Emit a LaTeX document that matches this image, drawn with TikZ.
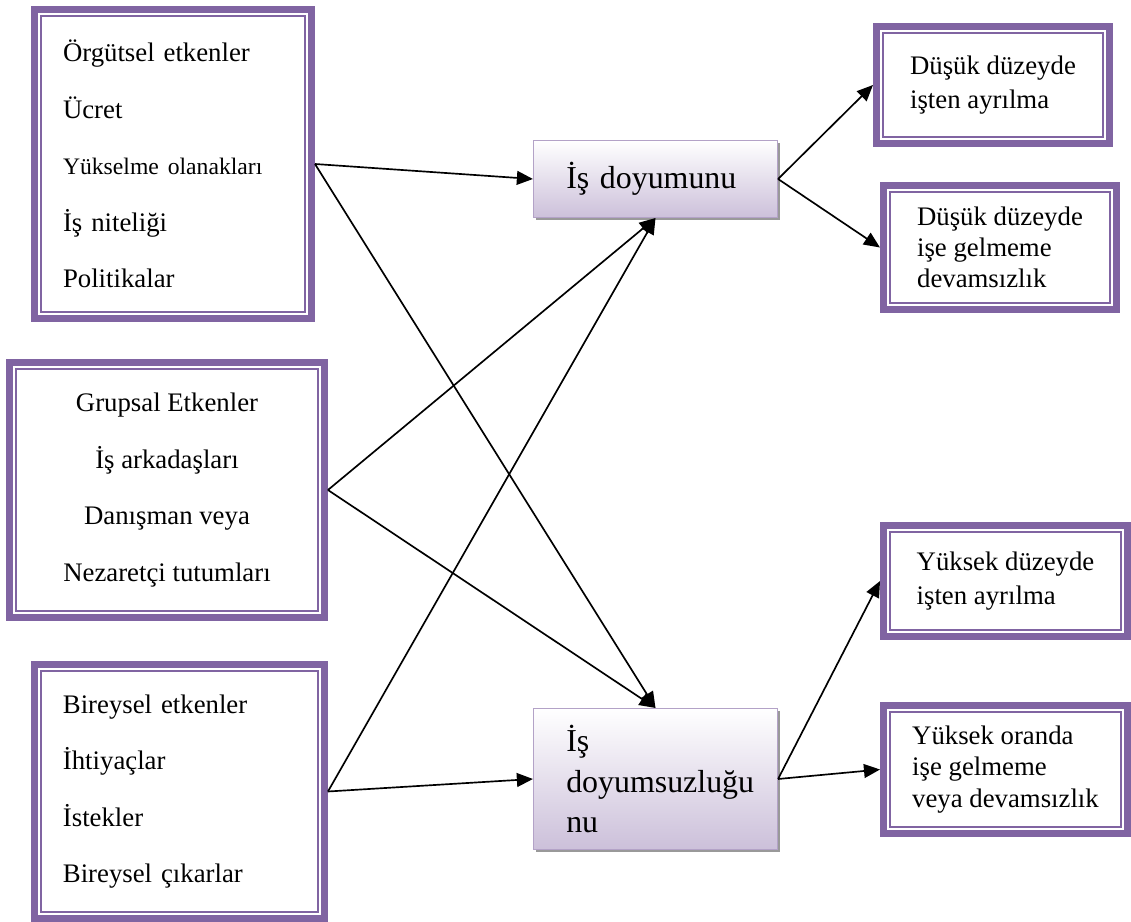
\documentclass[tikz,border=0pt]{standalone}
\usepackage{fontspec}
\setmainfont{Liberation Serif}
\usetikzlibrary{arrows.meta,shadows}

\definecolor{framecol}{HTML}{8064A2}
\definecolor{cenline}{HTML}{B3A2C7}
\definecolor{cenbot}{HTML}{CCC0DA}

\tikzset{
	frame/.style={draw=framecol, line width=3.1pt, fill=white,
		path picture={\draw[framecol, line width=0.9pt]
			([shift={(2.9pt,-2.9pt)}]path picture bounding box.north west) rectangle
			([shift={(-2.9pt,2.9pt)}]path picture bounding box.south east);}},
	leftbox/.style={frame, font=\fontsize{12}{25.3}\selectfont},
	rightbox/.style={frame, align=left, font=\fontsize{12}{15}\selectfont},
	result/.style={draw=cenline, line width=0.5pt, top color=white, bottom color=cenbot,
		drop shadow={shadow xshift=1.3pt, shadow yshift=-1.3pt, fill=black!40, opacity=1},
		minimum width=109.4pt, text width=80pt, align=left,
		font=\fontsize{14.3}{18}\selectfont},
	arr/.style={-{Triangle[length=7.2pt,width=6.2pt]}, line width=0.75pt}
}

\begin{document}
\begin{tikzpicture}[x=0.4483pt, y=-0.4483pt]
		\useasboundingbox (0,0) rectangle (1131,922);

		% left side
		\node[leftbox, minimum width=124.2pt, minimum height=138.5pt, text width=98.6pt, align=left] (orgut) at (173,164)
			{Örgütsel etkenler\\ Ücret\\ {\fontsize{10.6}{25.3}\selectfont Yükselme olanakları}\\ İş niteliği\\ Politikalar};
		\node[leftbox, minimum width=141.2pt, minimum height=114.3pt, align=center] (grup) at (167,490)
			{Grupsal Etkenler\\ İş arkadaşları\\ Danışman veya\\ Nezaretçi tutumları};
		\node[leftbox, minimum width=130pt, minimum height=113.9pt, text width=104.5pt, align=left] (birey) at (179.5,791.5)
			{Bireysel etkenler\\ İhtiyaçlar\\ İstekler\\ Bireysel çıkarlar};

		% middle
		\node[result, minimum height=34.5pt] (doyum) at (655.5,179) {İş doyumunu};
		\node[result, minimum height=63.2pt] (doyumsuz) at (655.5,779) {İş\\ doyumsuzluğu\\ nu};

		% right side
		\node[rightbox, minimum width=104.5pt, minimum height=52.5pt] (dusukayril) at (993,85)
			{Düşük düzeyde\\ işten ayrılma};
		\node[rightbox, minimum width=104.5pt, minimum height=55.6pt, font=\fontsize{12}{14}\selectfont] (dusukdevam) at (1000,247.5)
			{Düşük düzeyde\\ işe gelmeme\\ devamsızlık};
		\node[rightbox, minimum width=109.4pt, minimum height=49.8pt] (yuksekayril) at (1005.5,581)
			{Yüksek düzeyde\\ işten ayrılma};
		\node[rightbox, minimum width=109.4pt, minimum height=57.4pt, font=\fontsize{12}{14}\selectfont] (yuksekdevam) at (1005.5,769.5)
			{Yüksek oranda\\ işe gelmeme\\ veya devamsızlık};

		\path [arr] (orgut.east) edge (doyum.west);
		\path [arr] (orgut.east) edge (doyumsuz.north);
		\path [arr] (grup.east) edge (doyum.south);
		\path [arr] (grup.east) edge (doyumsuz.north);
		\path [arr] (birey.east) edge (doyum.south);
		\path [arr] (birey.east) edge (doyumsuz.west);
		\path [arr] (doyum.east) edge (dusukayril.west);
		\path [arr] (doyum.east) edge (dusukdevam.west);
		\path [arr] (doyumsuz.east) edge (yuksekayril.west);
		\path [arr] (doyumsuz.east) edge (yuksekdevam.west);
	\end{tikzpicture}
\end{document}
